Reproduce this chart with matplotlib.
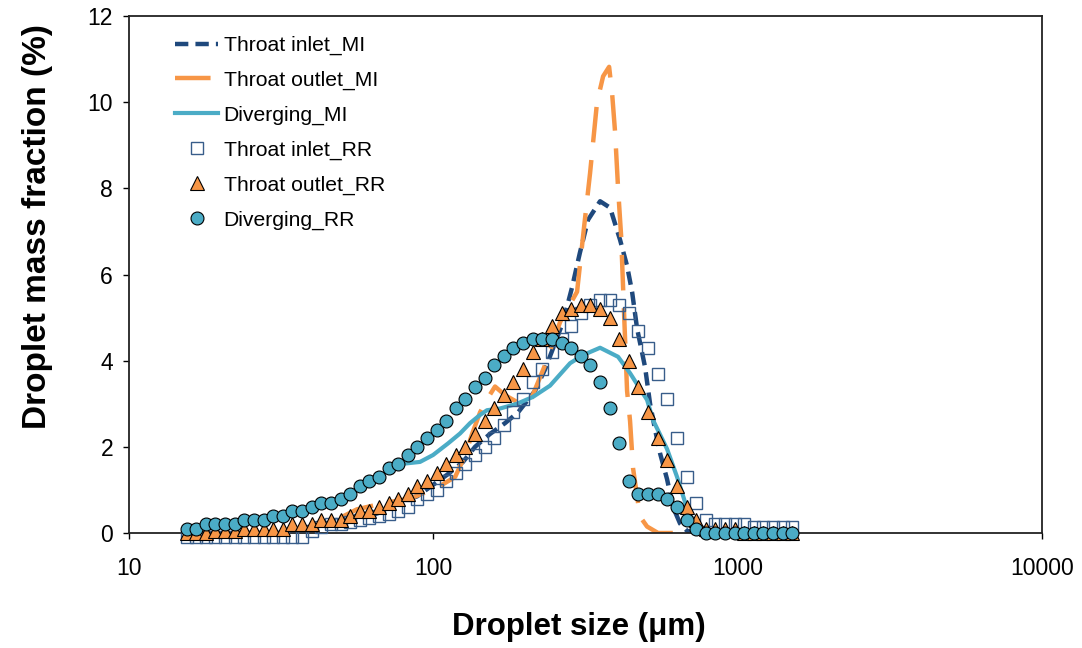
import numpy as np
import matplotlib.pyplot as plt

plt.rcParams['font.family'] = ['Liberation Sans', 'DejaVu Sans']

# droplet size classes of the RR (Rosin-Rammler) points, um
size_rr = [15.47, 16.64, 17.89, 19.24, 20.70, 22.26, 23.94, 25.75, 27.69, 29.78,
           32.03, 34.44, 37.04, 39.83, 42.84, 46.07, 49.55, 53.28, 57.30, 61.63,
           66.28, 71.28, 76.65, 82.44, 88.66, 95.35, 102.5, 110.3, 118.6, 127.5,
           137.1, 147.5, 158.6, 170.6, 183.4, 197.3, 212.2, 228.2, 245.4, 263.9,
           283.8, 305.2, 328.2, 353.0, 379.6, 408.3, 439.1, 472.2, 507.8, 546.1,
           587.3, 631.6, 679.3, 730.5, 785.6, 844.9, 908.6, 977.1, 1050.9, 1130.1,
           1215.4, 1307.1, 1405.7, 1511.7]

inlet_rr = [-0.1, -0.1, -0.1, -0.1, -0.1, -0.1, -0.1, -0.1, -0.1, -0.1,
            -0.1, -0.1, -0.1, 0.05, 0.15, 0.2, 0.2, 0.25, 0.3, 0.35,
            0.4, 0.45, 0.5, 0.6, 0.8, 0.9, 1.0, 1.2, 1.4, 1.6,
            1.8, 2.0, 2.2, 2.5, 2.8, 3.1, 3.5, 3.8, 4.2, 4.5,
            4.8, 5.1, 5.3, 5.4, 5.4, 5.3, 5.1, 4.7, 4.3, 3.7,
            3.1, 2.2, 1.3, 0.7, 0.3, 0.2, 0.2, 0.2, 0.2, 0.15,
            0.15, 0.15, 0.15, 0.15]

outlet_rr = [0.0, 0.0, 0.0, 0.05, 0.05, 0.05, 0.1, 0.1, 0.1, 0.1,
             0.1, 0.2, 0.2, 0.2, 0.3, 0.3, 0.3, 0.4, 0.5, 0.5,
             0.6, 0.7, 0.8, 0.9, 1.1, 1.2, 1.4, 1.6, 1.8, 2.0,
             2.3, 2.6, 2.9, 3.2, 3.5, 3.8, 4.2, 4.5, 4.8, 5.1,
             5.2, 5.3, 5.3, 5.2, 5.0, 4.5, 4.0, 3.4, 2.8, 2.2,
             1.7, 1.1, 0.6, 0.3, 0.1, 0.1, 0.1, 0.1, 0.0, 0.0,
             0.0, 0.0, 0.0, 0.0]

diverging_rr = [0.1, 0.1, 0.2, 0.2, 0.2, 0.2, 0.3, 0.3, 0.3, 0.4,
                0.4, 0.5, 0.5, 0.6, 0.7, 0.7, 0.8, 0.9, 1.1, 1.2,
                1.3, 1.5, 1.6, 1.8, 2.0, 2.2, 2.4, 2.6, 2.9, 3.1,
                3.4, 3.6, 3.9, 4.1, 4.3, 4.4, 4.5, 4.5, 4.5, 4.4,
                4.3, 4.1, 3.9, 3.5, 2.9, 2.1, 1.2, 0.9, 0.9, 0.9,
                0.8, 0.6, 0.3, 0.1, 0.0, 0.0, 0.0, 0.0, 0.0, 0.0,
                0.0, 0.0, 0.0, 0.0]

# MI (measured) curves
inlet_mi_x = [61.94, 68.35, 73.16, 88.42, 110.9, 125.2, 137.1, 153.6, 172.0, 189.8,
              215.9, 232.9, 266.9, 285.6, 303.0, 322.4, 353.1, 380.9, 410.9, 433.1,
              449.8, 467.1, 496.3, 515.4, 535.3, 555.9, 586.1, 613.3, 646.7, 681.9, 724.4]
inlet_mi_y = [0.4, 0.5, 0.65, 0.85, 1.35, 1.65, 2.0, 2.3, 2.55, 2.8,
              3.3, 3.8, 4.9, 5.7, 6.5, 7.27, 7.7, 7.55, 6.8, 6.2,
              5.6, 4.75, 3.85, 3.0, 2.4, 1.85, 1.25, 0.6, 0.22, 0.05, 0.0]

outlet_mi_x = [49.36, 56.14, 69.39, 83.83, 102.8, 117.9, 127.1, 134.1, 142.4, 150.1,
               159.5, 172.0, 192.7, 207.9, 232.9, 261.0, 296.7, 312.8, 327.3, 345.1,
               361.3, 378.1, 386.8, 395.6, 404.6, 414.0, 426.6, 433.1, 443.0, 453.2,
               477.8, 503.8, 547.6, 697.8]
outlet_mi_y = [0.35, 0.55, 0.7, 0.8, 1.05, 1.3, 1.8, 2.3, 2.8, 3.1,
               3.4, 3.2, 3.0, 3.05, 3.9, 4.9, 5.6, 7.1, 8.35, 10.0,
               10.6, 10.82, 10.2, 9.3, 8.0, 6.9, 4.5, 3.3, 2.6, 1.5,
               0.38, 0.15, 0.0, 0.0]

diverging_mi_x = [77.72, 90.42, 99.78, 111.8, 122.4, 132.0, 142.4, 150.1, 165.7, 188.4,
                  212.6, 241.8, 281.3, 310.4, 353.1, 404.6, 443.0, 503.8, 527.2, 586.1,
                  632.3, 681.9, 713.5, 752.3]
diverging_mi_y = [1.6, 1.65, 1.81, 2.08, 2.31, 2.55, 2.74, 2.85, 2.89, 3.0,
                  3.16, 3.42, 3.94, 4.13, 4.3, 4.09, 3.71, 3.09, 2.62, 1.95,
                  1.3, 0.57, 0.3, 0.05]

navy = '#1F497D'
orange = '#F79646'
cyan = '#4BACC6'

fig = plt.figure(figsize=(10.82, 6.48), dpi=100)
ax = fig.add_axes([129 / 1082, 1 - 533 / 648, 913 / 1082, 517 / 648])

ax.plot(inlet_mi_x, inlet_mi_y, color=navy, lw=3.2, dashes=(3, 1.6),
        label='Throat inlet_MI', zorder=2)
ax.plot(outlet_mi_x, outlet_mi_y, color=orange, lw=3.2, dashes=(8, 4),
        label='Throat outlet_MI', zorder=2)
ax.plot(diverging_mi_x, diverging_mi_y, color=cyan, lw=3.0,
        label='Diverging_MI', zorder=2)

ax.plot(size_rr, inlet_rr, ls='none', marker='s', ms=8, mfc='none',
        mec='#385D8A', mew=1.0, label='Throat inlet_RR', clip_on=False, zorder=3)
ax.plot(size_rr, outlet_rr, ls='none', marker='^', ms=10, mfc=orange,
        mec='black', mew=0.8, label='Throat outlet_RR', clip_on=False, zorder=4)
ax.plot(size_rr, diverging_rr, ls='none', marker='o', ms=9.3, mfc=cyan,
        mec='black', mew=0.8, label='Diverging_RR', clip_on=False, zorder=5)

ax.set_xscale('log')
ax.set_xlim(10, 10000)
ax.set_ylim(0, 12)
ax.set_xticks([10, 100, 1000, 10000])
ax.set_xticklabels(['10', '100', '1000', '10000'])
ax.xaxis.set_minor_locator(plt.NullLocator())
ax.set_yticks(np.arange(0, 13, 2))

for s in ax.spines.values():
    s.set_linewidth(1.3)
    s.set_color('#222222')
ax.tick_params(axis='both', direction='out', length=4.5, width=1, labelsize=16.5)
ax.tick_params(axis='x', pad=13)
ax.tick_params(axis='y', pad=7)

ax.set_xlabel('Droplet size (\u03bcm)', fontsize=22.5, fontweight='bold')
ax.set_ylabel('Droplet mass fraction (%)', fontsize=24, fontweight='bold')
ax.xaxis.set_label_coords((579 - 129) / 913, (533 - 627) / 517)
ax.xaxis.label.set_va('center')
ax.yaxis.set_label_coords((38 - 129) / 913, (533 - 227) / 517)
ax.yaxis.label.set_va('center')

ax.legend(loc='upper left', bbox_to_anchor=((175 - 129) / 913, (533 - 36) / 517),
          frameon=False, fontsize=15.2, handlelength=2.05, handletextpad=0.25,
          labelspacing=0.74, borderaxespad=0, borderpad=0, numpoints=1)

fig.savefig('out.png', dpi=100)
